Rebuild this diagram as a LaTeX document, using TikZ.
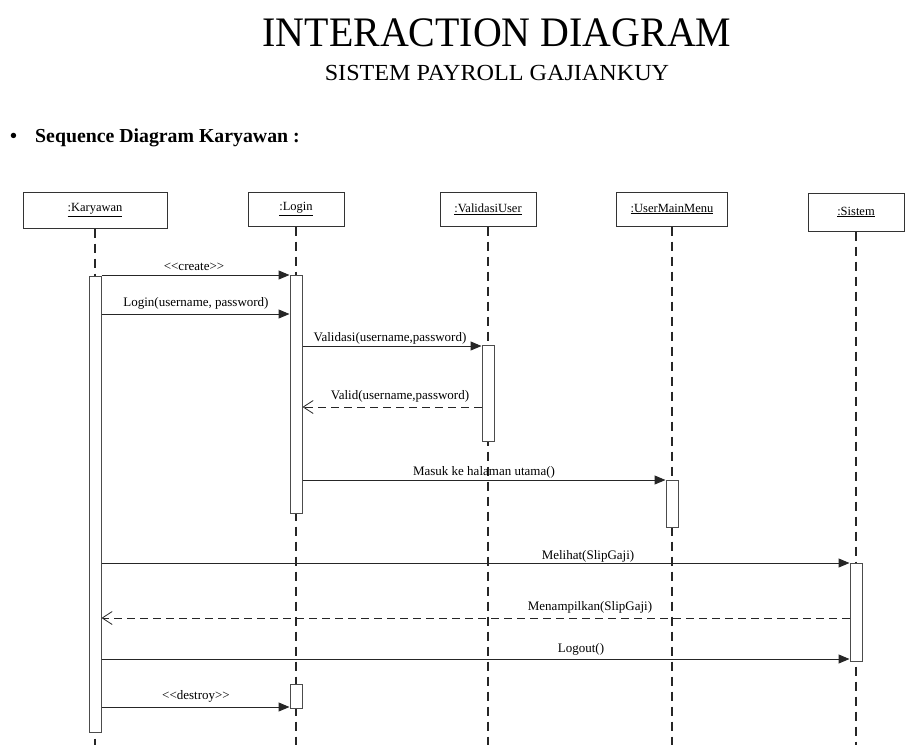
\documentclass[tikz,border=0pt]{standalone}
\usepackage{fontspec}
\setmainfont{Liberation Serif}
\newfontfamily\titlefont[FakeStretch=0.95]{Liberation Serif}
\newfontfamily\subfont[FakeStretch=1.05]{Liberation Serif}
\usetikzlibrary{arrows.meta}
\begin{document}
\begin{tikzpicture}[x=1pt,y=-1pt,
  obj/.style={draw=black!80, line width=1pt, fill=white, inner sep=0pt,
    font=\fontsize{12.5}{14}\selectfont},
  act/.style={draw=black!70, line width=1pt, fill=white, minimum width=12pt,
    inner sep=0pt, anchor=north},
  life/.style={draw=black!85, line width=1.2pt, dash pattern=on 9pt off 6pt},
  msg/.style={draw=black!85, line width=1pt, -{Triangle[length=11pt,width=9pt]}},
  ret/.style={draw=black!85, line width=1pt, dash pattern=on 8pt off 5pt,
    -{Straight Barb[length=10pt,width=13pt,line width=0.8pt]}},
  lbl/.style={font=\fontsize{13}{15}\selectfont, inner sep=0pt, anchor=base}]
\useasboundingbox (0,0) rectangle (905,745);

% titles
\node[anchor=base, inner sep=0pt, font=\titlefont\fontsize{42}{44}\selectfont] (title) at (497,46) {INTERACTION DIAGRAM};
\node[anchor=base, inner sep=0pt, font=\subfont\fontsize{23}{26}\selectfont] (subtitle) at (497,80) {SISTEM PAYROLL GAJIANKUY};
\node[anchor=base west, inner sep=0pt, font=\bfseries\fontsize{19.8}{22}\selectfont] (bullet) at (10,142) {\textbullet};
\node[anchor=base west, inner sep=0pt, font=\bfseries\fontsize{19.8}{22}\selectfont] (heading) at (35,142) {Sequence Diagram Karyawan :};

% objects
\node[obj, minimum width=144pt, minimum height=36pt] (kar) at (95,210) {\underline{:Karyawan}};
\node[obj, minimum width=96pt, minimum height=34pt] (log) at (296,209) {\underline{:Login}};
\node[obj, minimum width=96pt, minimum height=34pt] (val) at (488,209) {\underline{:ValidasiUser}};
\node[obj, minimum width=111pt, minimum height=34pt] (umm) at (672,209) {\underline{:UserMainMenu}};
\node[obj, minimum width=96pt, minimum height=38pt] (sis) at (856,212) {\underline{:Sistem}};

% lifelines
\coordinate (karEnd) at (95,745);
\coordinate (logEnd) at (296,745);
\coordinate (valEnd) at (488,745);
\coordinate (ummEnd) at (672,745);
\coordinate (sisEnd) at (856,745);
\draw[life] (kar.south) -- (karEnd);
\draw[life] (log.south) -- (logEnd);
\draw[life] (val.south) -- (valEnd);
\draw[life] (umm.south) -- (ummEnd);
\draw[life] (sis.south) -- (sisEnd);

% activations
\node[act, minimum height=456pt] (akar) at (95,276) {};
\node[act, minimum height=238pt] (alog) at (296,275) {};
\node[act, minimum height=24pt] (alog2) at (296,684) {};
\node[act, minimum height=96pt] (aval) at (488,345) {};
\node[act, minimum height=47pt] (aumm) at (672,480) {};
\node[act, minimum height=98pt] (asis) at (856,563) {};

% messages
\draw[msg] (akar.east |- 0,275) -- (alog.west |- 0,275);
\node[lbl] (m1) at (194,270) {{<}{<}create{>}{>}};

\draw[msg] (akar.east |- 0,314) -- (alog.west |- 0,314);
\node[lbl] (m2) at (196,306) {Login(username, password)};

\draw[msg] (alog.east |- 0,346) -- (aval.west |- 0,346);
\node[lbl] (m3) at (390,341) {Validasi(username,password)};

\draw[ret] (aval.west |- 0,407) -- (alog.east |- 0,407);
\node[lbl] (m4) at (400,399) {Valid(username,password)};

\draw[msg] (alog.east |- 0,480) -- (aumm.west |- 0,480);
\node[lbl] (m5) at (484,475) {Masuk ke halaman utama()};

\draw[msg] (akar.east |- 0,563) -- (asis.west |- 0,563);
\node[lbl] (m6) at (588,559) {Melihat(SlipGaji)};

\draw[ret] (asis.west |- 0,618) -- (akar.east |- 0,618);
\node[lbl] (m7) at (590,610) {Menampilkan(SlipGaji)};

\draw[msg] (akar.east |- 0,659) -- (asis.west |- 0,659);
\node[lbl] (m8) at (581,652) {Logout()};

\draw[msg] (akar.east |- 0,707) -- (alog2.west |- 0,707);
\node[lbl] (m9) at (196,699) {{<}{<}destroy{>}{>}};
\end{tikzpicture}
\end{document}
